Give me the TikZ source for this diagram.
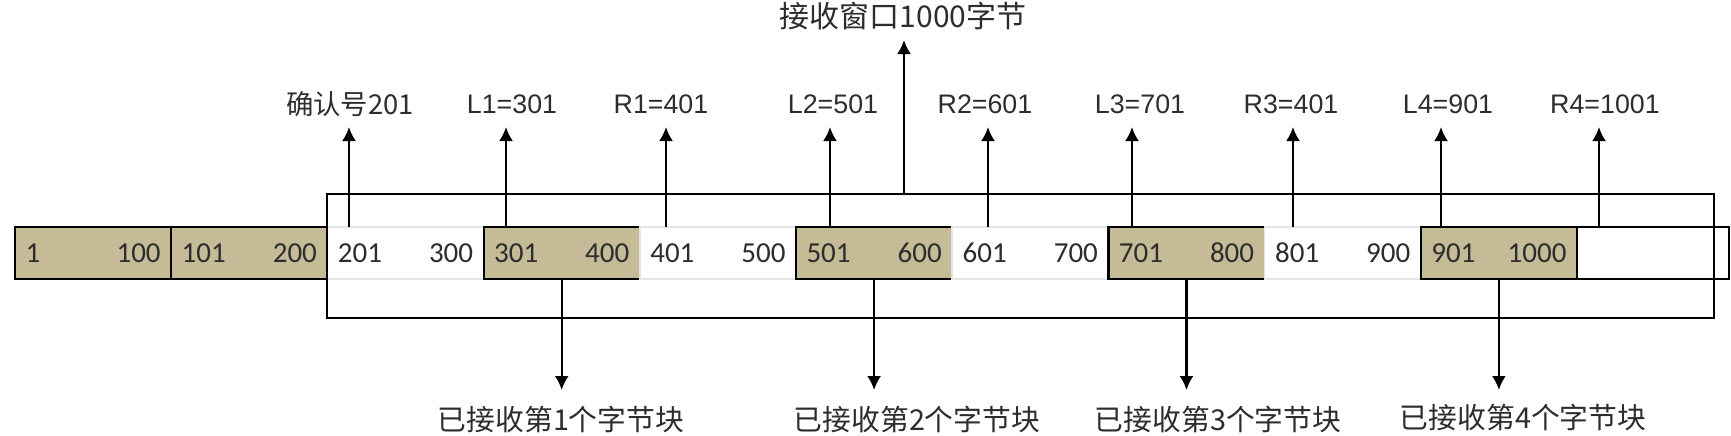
\documentclass[tikz,border=0pt]{standalone}
\usepackage{fontspec}
\setmainfont{Liberation Sans}
\newfontfamily\cjk{Noto Sans CJK SC}
\newfontfamily\cellfont{Carlito}
\usetikzlibrary{arrows.meta}
\definecolor{tanfill}{RGB}{197,187,151}
\definecolor{inktext}{RGB}{45,45,45}

\begin{document}
\begin{tikzpicture}[x=0.5pt,y=0.5pt,yscale=-1,
  seg/.style={draw=black!10,fill=white,line width=0.8pt,minimum width=78.1pt,minimum height=26pt,
    text width=67.6pt,inner xsep=0pt,inner ysep=0pt,outer sep=0pt,
    font=\cellfont\fontsize{14.5pt}{17pt}\selectfont,text=inktext},
  got/.style={seg,draw=black,fill=tanfill,line width=1.1pt},
  free/.style={seg,draw=black,line width=1.1pt},
  lab/.style={font=\fontsize{13.4pt}{16pt}\selectfont,text=inktext,inner sep=0pt},
  cjklab/.style={font=\cjk\fontsize{14.4pt}{17pt}\selectfont,text=inktext,inner sep=0pt},
  ptr/.style={line width=1.1pt,-{Latex[length=7pt,width=7pt]}}
]
\useasboundingbox (0,0) rectangle (1731,435);

%Shape: Rectangle [byte blocks]
\node[got] (c0) at (93.1,253) {1\hfill 100};
\node[got] (c1) at (249.3,253) {101\hfill 200};
\node[seg] (c2) at (405.5,253) {201\hfill 300};
\node[got] (c3) at (561.7,253) {301\hfill 400};
\node[seg] (c4) at (717.9,253) {401\hfill 500};
\node[got] (c5) at (874.1,253) {501\hfill 600};
\node[seg] (c6) at (1030.3,253) {601\hfill 700};
\node[got] (c7) at (1186.5,253) {701\hfill 800};
\node[seg] (c8) at (1342.7,253) {801\hfill 900};
\node[got] (c9) at (1498.9,253) {901\hfill 1000};
\node[free,minimum width=76pt,text width=60pt] (c10) at (1653,253) {};

%Shape: Rectangle [receive window]
\node[draw,line width=1.1pt,minimum width=693.5pt,minimum height=62pt,inner sep=0pt] (win) at (1020.5,256) {};

% Text Node
\node[cjklab,font=\cjk\fontsize{15pt}{18pt}\selectfont] (wintitle) at (903,16) {接收窗口1000字节};
\node[cjklab,font=\cjk\fontsize{13.7pt}{16pt}\selectfont] (ack) at (350,104) {确认号201};
\node[lab] (l1) at (512,104) {L1=301};
\node[lab] (r1) at (661,104) {R1=401};
\node[lab] (l2) at (833,104) {L2=501};
\node[lab] (r2) at (985,104) {R2=601};
\node[lab] (l3) at (1140,104) {L3=701};
\node[lab] (r3) at (1291,104) {R3=401};
\node[lab] (l4) at (1448,104) {L4=901};
\node[lab] (r4) at (1605,104) {R4=1001};
% Text Node
\node[cjklab] (got1) at (561,419) {已接收第1个字节块};
\node[cjklab] (got2) at (917,419) {已接收第2个字节块};
\node[cjklab] (got3) at (1218,419) {已接收第3个字节块};
\node[cjklab] (got4) at (1523,417) {已接收第4个字节块};

\coordinate (titletip) at (904,40);
\coordinate (uptip) at (0,127);
\coordinate (downtip) at (0,390);

%Straight Lines
\draw[ptr] (win.north -| titletip) -- (titletip);
\draw[ptr] (c2.north -| 349,0) -- (349,0 |- uptip);
\draw[ptr] (c3.north -| 506,0) -- (506,0 |- uptip);
\draw[ptr] (c4.north -| 666,0) -- (666,0 |- uptip);
\draw[ptr] (c5.north -| 830,0) -- (830,0 |- uptip);
\draw[ptr] (c6.north -| 988,0) -- (988,0 |- uptip);
\draw[ptr] (c7.north -| 1132,0) -- (1132,0 |- uptip);
\draw[ptr] (c8.north -| 1293,0) -- (1293,0 |- uptip);
\draw[ptr] (c9.north -| 1441,0) -- (1441,0 |- uptip);
\draw[ptr] (c10.north -| 1599,0) -- (1599,0 |- uptip);
%Straight Lines
\draw[ptr] (c3.south) -- (c3.south |- downtip);
\draw[ptr] (c5.south) -- (c5.south |- downtip);
\draw[ptr] (c7.south) -- (c7.south |- downtip);
\draw[ptr] (c9.south) -- (c9.south |- downtip);

\end{tikzpicture}
\end{document}
